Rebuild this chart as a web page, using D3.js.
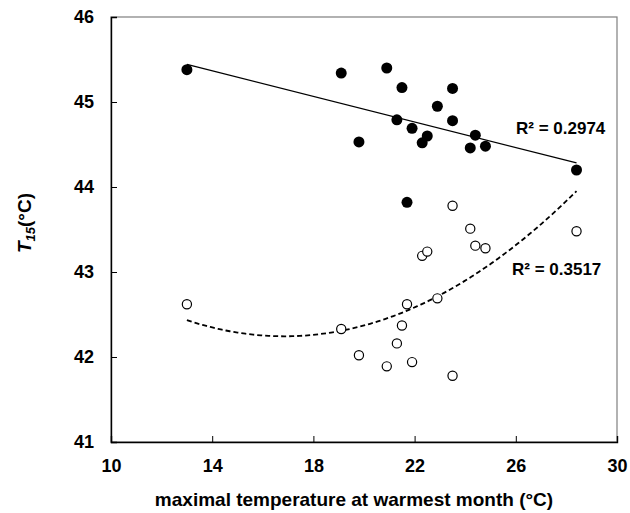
<!DOCTYPE html>
<html>
<head>
<meta charset="utf-8">
<script src="https://cdn.jsdelivr.net/npm/d3@7"></script>
<style>
  body { margin: 0; background: #fff; }
  text { font-family: "Liberation Sans", Arial, sans-serif; font-weight: bold; fill: #000; }
</style>
</head>
<body>
<div id="chart"></div>
<script>
// maximal temperature at warmest month, one per site
var tmax = [13.0, 19.1, 19.8, 20.9, 21.3, 21.5, 21.7, 21.9, 22.3, 22.5, 22.9, 23.5, 23.5, 24.2, 24.4, 24.8, 28.4];

// T15 for the filled series (same order as tmax)
var t15Filled = [45.38, 45.34, 44.53, 45.40, 44.79, 45.17, 43.82, 44.69, 44.52, 44.60, 44.95, 45.16, 44.78, 44.46, 44.61, 44.48, 44.20];

// T15 for the open series (same order as tmax)
var t15Open = [42.62, 42.33, 42.02, 41.89, 42.16, 42.37, 42.62, 41.94, 43.19, 43.24, 42.69, 43.78, 41.78, 43.51, 43.31, 43.28, 43.48];

var xTicks = [10, 14, 18, 22, 26, 30];
var yTicks = [41, 42, 43, 44, 45, 46];
var r2Filled = "R² = 0.2974";
var r2Open = "R² = 0.3517";

var width = 630, height = 513;
var margin = {top: 17, right: 13, bottom: 71, left: 111};
var w = width - margin.left - margin.right;
var h = height - margin.top - margin.bottom;

var svg = d3.select("#chart").append("svg")
    .attr("width", width)
    .attr("height", height);

var g = svg.append("g").attr("transform", "translate(" + margin.left + "," + margin.top + ")");

var x = d3.scaleLinear().domain([10, 30]).range([0, w]);
var y = d3.scaleLinear().domain([41, 46]).range([h, 0]);

// grey frame of the plot area
g.append("rect")
    .attr("width", w).attr("height", h)
    .attr("fill", "none").attr("stroke", "#7f7f7f").attr("stroke-width", 1.2);

// axes, ticks pointing inward
var xAxis = g.append("g").attr("transform", "translate(0," + h + ")")
    .call(d3.axisBottom(x).tickValues(xTicks).tickSize(-6).tickPadding(17).tickFormat(d3.format("d")));
var yAxis = g.append("g")
    .call(d3.axisLeft(y).tickValues(yTicks).tickSize(-6).tickPadding(17).tickFormat(d3.format("d")));

[xAxis, yAxis].forEach(function(a){
  a.select(".domain").attr("stroke", "#000").attr("stroke-width", 1.4);
  a.selectAll(".tick line").attr("stroke", "#000").attr("stroke-width", 1);
  a.selectAll(".tick text").style("font-size", "18px").style("font-family", "Liberation Sans, Arial, sans-serif").style("font-weight", "bold").attr("fill", "#000");
});
// hide the tick marks at the corners like the original
xAxis.selectAll(".tick").filter(function(d){ return d == 10 || d == 30; }).select("line").remove();
yAxis.selectAll(".tick").filter(function(d){ return d == 41 || d == 46; }).select("line").remove();

// least squares fits (linear for filled, quadratic for open)
function linFit(xs, ys){
  var n = xs.length, mx = d3.mean(xs), my = d3.mean(ys);
  var sxy = 0, sxx = 0;
  for (i=0;i<n;i++){ sxy += (xs[i]-mx)*(ys[i]-my); sxx += (xs[i]-mx)*(xs[i]-mx); }
  var b = sxy/sxx;
  return function(v){ return my + b*(v-mx); };
}

function quadFit(xs, ys){
  // normal equations for a + b x + c x^2
  var s = [0,0,0,0,0], t = [0,0,0];
  for (i=0;i<xs.length;i++){
    var p = 1;
    for (k=0;k<5;k++){ s[k] += p; if (k<3) t[k] += p*ys[i]; p *= xs[i]; }
  }
  var A = [[s[0],s[1],s[2],t[0]],[s[1],s[2],s[3],t[1]],[s[2],s[3],s[4],t[2]]];
  for (c=0;c<3;c++){
    for (r=c+1;r<3;r++){
      var f = A[r][c]/A[c][c];
      for (k=c;k<4;k++) A[r][k] -= f*A[c][k];
    }
  }
  var coef = [0,0,0];
  for (r=2;r>=0;r--){
    var v = A[r][3];
    for (k=r+1;k<3;k++) v -= A[r][k]*coef[k];
    coef[r] = v/A[r][r];
  }
  return function(v){ return coef[0] + coef[1]*v + coef[2]*v*v; };
}

var xmin = d3.min(tmax), xmax = d3.max(tmax);
var fLin = linFit(tmax, t15Filled);
var fQuad = quadFit(tmax, t15Open);

var line = d3.line().x(function(d){ return x(d[0]); }).y(function(d){ return y(d[1]); });

g.append("path")
    .datum([[xmin, fLin(xmin)], [xmax, fLin(xmax)]])
    .attr("d", line)
    .attr("fill", "none").attr("stroke", "#000").attr("stroke-width", 1.3);

var curve = d3.range(0, 101).map(function(i){
  var v = xmin + (xmax - xmin)*i/100;
  return [v, fQuad(v)];
});
g.append("path")
    .datum(curve)
    .attr("d", line)
    .attr("fill", "none").attr("stroke", "#000").attr("stroke-width", 1.8)
    .attr("stroke-dasharray", "5,3");

// open circles
g.selectAll(".open").data(tmax).enter().append("circle")
    .attr("class", "open")
    .attr("cx", function(d){ return x(d); })
    .attr("cy", function(d, i){ return y(t15Open[i]); })
    .attr("r", 4.6)
    .attr("fill", "#fff").attr("stroke", "#000").attr("stroke-width", 1.2);

// filled circles
g.selectAll(".filled").data(tmax).enter().append("circle")
    .attr("class", "filled")
    .attr("cx", function(d){ return x(d); })
    .attr("cy", function(d, i){ return y(t15Filled[i]); })
    .attr("r", 5.5)
    .attr("fill", "#000");

// R² labels
svg.append("text").attr("x", 516).attr("y", 134).style("font-size", "17px").text(r2Filled);
svg.append("text").attr("x", 512).attr("y", 275).style("font-size", "17px").text(r2Open);

// axis titles
svg.append("text")
    .attr("x", margin.left + w/2 - 10).attr("y", 506)
    .attr("text-anchor", "middle").style("font-size", "19px")
    .text("maximal temperature at warmest month (°C)");

var yt = svg.append("text")
    .attr("transform", "translate(31,223) rotate(-90)")
    .attr("text-anchor", "middle").style("font-size", "19px");
yt.append("tspan").style("font-style", "italic").text("T");
yt.append("tspan").style("font-style", "italic").style("font-size", "13px").attr("dy", 4).text("15");
yt.append("tspan").attr("dy", -4).text("(°C)");
</script>
</body>
</html>
